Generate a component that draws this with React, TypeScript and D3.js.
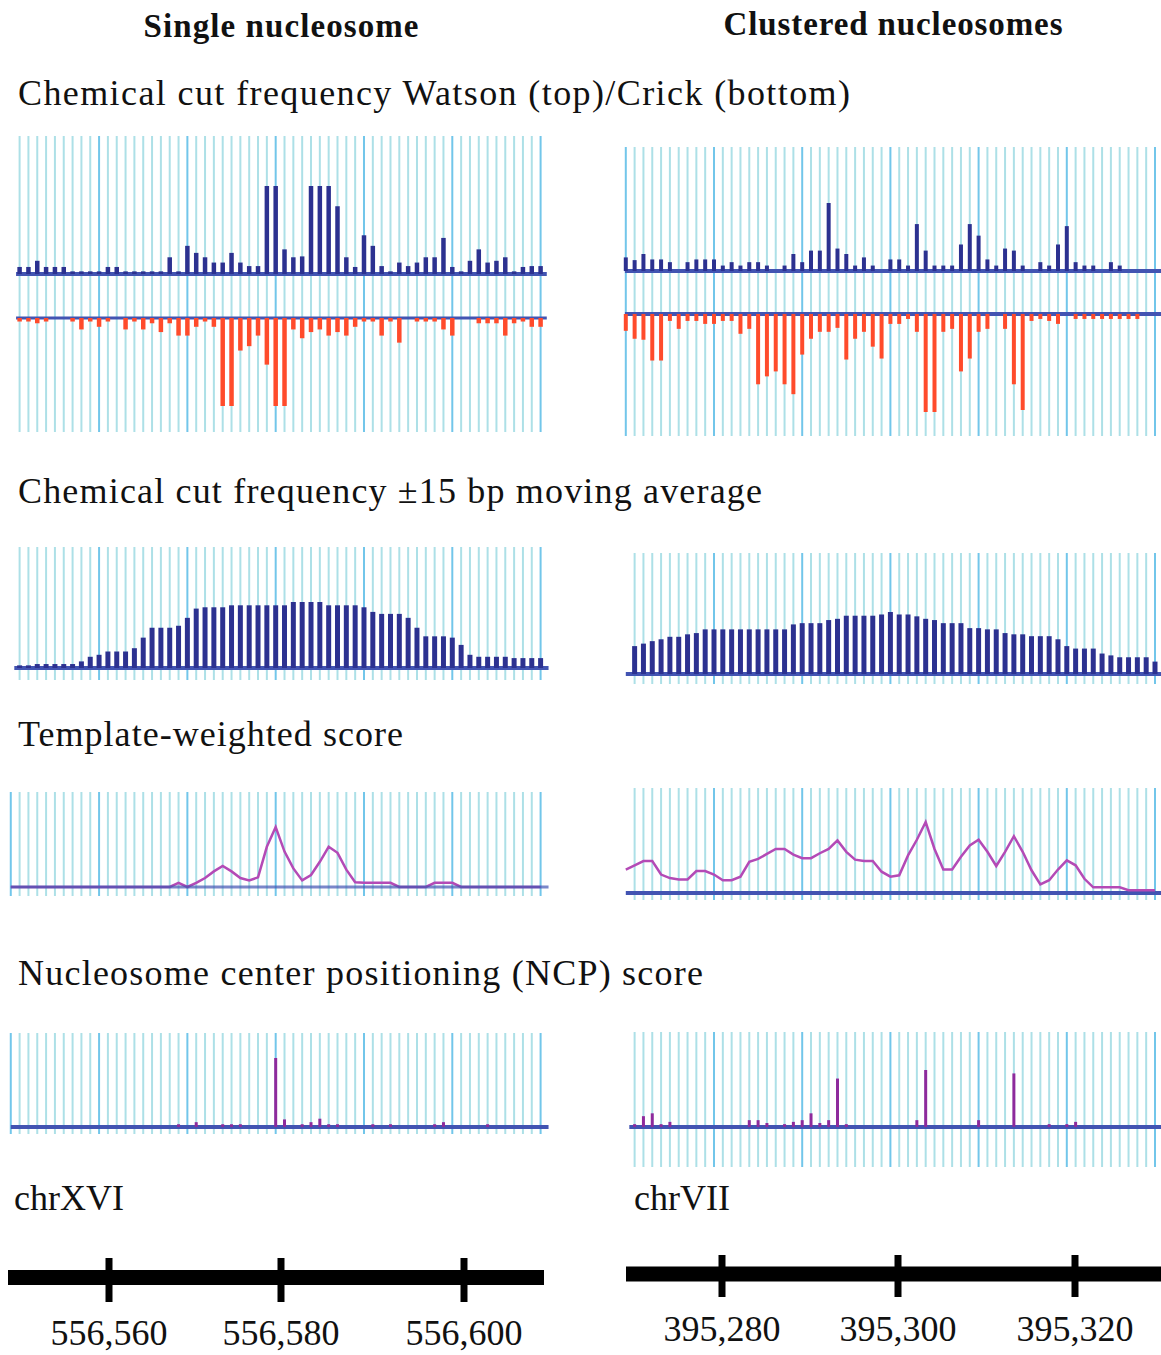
import React from "react";
import * as d3 from "d3";

const W = 1161;
const H = 1355;

// cut frequency, top strand (Watson) and bottom strand (Crick), one value per bp
const watsonSingle = [8,8,15,8,8,8,3,3,3,3,8,8,3,3,3,3,3,19,3,32,24,19,13,13,24,13,9,9,100,100,28,19,20,100,100,100,77,19,8,44,32,9,3,13,9,13,19,19,41,8,3,15,28,13,15,19,3,8,9,9];
const crickSingle = [4,4,6,4,0,0,4,13,4,10,4,0,13,4,13,6,16,6,20,20,10,4,10,100,100,37,32,20,53,100,100,13,23,16,13,20,16,20,10,4,4,20,4,28,0,4,4,4,13,20,0,0,6,6,6,20,6,4,10,10];
const watsonCluster = [20,16,25,17,17,13,0,13,17,17,17,8,13,8,13,13,8,0,8,25,13,30,30,100,33,25,8,20,8,0,17,17,8,69,30,8,8,8,39,69,52,17,8,33,30,8,0,13,8,39,66,13,8,8,0,13,8,0,0,0,0];
const crickCluster = [17,25,26,47,47,7,15,7,7,10,10,7,7,20,15,71,63,58,71,81,41,25,18,18,14,46,25,18,33,45,10,10,5,18,99,99,18,15,58,45,18,15,0,15,71,97,7,5,7,10,0,5,5,5,5,5,5,5,5,0,0];

// +-15 bp moving average
const avgSingle = [4,4,6,6,6,6,6,10,17,20,25,25,25,30,46,61,61,61,64,76,90,92,92,92,95,95,95,95,95,95,95,100,100,100,100,95,95,95,95,92,85,82,82,82,76,61,48,48,48,46,35,20,17,17,17,17,15,15,15,15];
const avgCluster = [45,49,53,56,60,60,64,66,72,72,72,72,72,72,72,72,72,72,80,82,82,82,87,89,94,94,94,94,96,100,96,96,93,89,87,82,82,82,74,74,72,72,66,64,64,61,61,61,56,45,41,41,41,33,30,27,27,27,27,20];

// template-weighted score
const templateSingle = [0,0,0,0,0,0,0,0,0,0,0,0,0,0,0,0,0,0,0,7,0,7,15,26,35,26,15,11,16,67,100,59,31,11,20,42,67,57,29,8,7,7,7,7,0,0,0,0,7,7,7,0,0,0,0,0,0,0,0,0,0];
const templateCluster = [33,39,45,45,26,21,19,19,31,31,26,18,18,23,44,48,55,62,62,54,49,49,56,62,74,58,47,45,45,30,23,25,53,75,100,62,33,33,51,67,75,58,38,58,80,58,32,12,18,33,46,39,20,8,8,8,8,4,4,4,4];

// NCP score
const ncpSingle = [0,0,0,0,0,0,0,0,0,0,0,0,0,0,0,0,0,0,4,0,7,0,0,4,4,4,0,0,0,100,11,0,4,7,12,4,4,0,0,0,4,0,4,0,0,0,0,4,7,0,0,0,0,4,0,0,0,0,0,0];
const ncpCluster = [0,5,19,24,5,9,0,0,0,0,0,0,0,0,12,12,7,0,5,9,12,24,7,12,85,5,0,0,0,0,0,0,0,12,100,0,0,0,0,0,12,0,0,0,94,0,0,0,5,0,5,9,0,0,0,0,0,0,0,0,0];

const ticksSingle = [556560, 556580, 556600];
const ticksCluster = [395280, 395300, 395320];

const SERIF = "'Liberation Serif', 'Times New Roman', serif";
const GRID = "#ade0e7";
const GRID_DARK = "#72c6ea";
const NAVY = "#2c3190";
const BASE = "#4254b2";
const RED = "#ff4b2b";
const MAGENTA = "#b44ab6";
const PURPLE = "#8e2a9c";

const xSingle = d3.scaleLinear().domain([0, 59]).range([19.6, 540.6]);
const xCluster = d3.scaleLinear().domain([0, 60]).range([625.8, 1155]);
const rulerSingle = d3.scaleLinear().domain(ticksSingle).range([109, 281, 464]);
const rulerCluster = d3.scaleLinear().domain(ticksCluster).range([722, 898, 1075]);

type Scale = d3.ScaleLinear<number, number>;

function Grid({ x, from, to, top, bottom, dark }: { x: Scale; from: number; to: number; top: number; bottom: number; dark: number }) {
  return (
    <g>
      {d3.range(from, to + 1).map((i) => (
        <line key={i} x1={x(i)} x2={x(i)} y1={top} y2={bottom}
          stroke={((i % 10) + 10) % 10 === dark ? GRID_DARK : GRID} strokeWidth={2} />
      ))}
    </g>
  );
}

function Bars({ x, y, data, start, color, width }: { x: Scale; y: Scale; data: number[]; start: number; color: string; width: number }) {
  return (
    <g>
      {data.map((v, k) =>
        v > 0 ? (
          <line key={k} x1={x(start + k)} x2={x(start + k)} y1={y(0)} y2={y(v)} stroke={color} strokeWidth={width} />
        ) : null
      )}
    </g>
  );
}

function Base({ x, y, a, b, w = 3, opacity = 1 }: { x: Scale; y: number; a: number; b: number; w?: number; opacity?: number }) {
  return <line x1={x(a)} x2={x(b)} y1={y} y2={y} stroke={BASE} strokeWidth={w} strokeOpacity={opacity} />;
}

function Label({ x, y, text, len, size = 36, bold = false, anchor = "start" }: any) {
  return (
    <text x={x} y={y} fontFamily={SERIF} fontSize={size} fontWeight={bold ? "bold" : "normal"}
      textAnchor={anchor} textLength={len} lengthAdjust="spacing" fill="#111">
      {text}
    </text>
  );
}

export default function App() {
  // panel 1: Watson / Crick
  const ywS = d3.scaleLinear().domain([0, 100]).range([274, 186]);
  const ycS = d3.scaleLinear().domain([0, 100]).range([318, 406]);
  const ywC = d3.scaleLinear().domain([0, 100]).range([271, 203]);
  const ycC = d3.scaleLinear().domain([0, 100]).range([314, 413]);
  // panel 2: moving average
  const yaS = d3.scaleLinear().domain([0, 100]).range([668, 602]);
  const yaC = d3.scaleLinear().domain([0, 100]).range([674, 612]);
  // panel 3: template score
  const ytS = d3.scaleLinear().domain([0, 100]).range([887, 827]);
  const ytC = d3.scaleLinear().domain([0, 100]).range([893, 822]);
  // panel 4: NCP
  const ynS = d3.scaleLinear().domain([0, 100]).range([1127, 1058]);
  const ynC = d3.scaleLinear().domain([0, 100]).range([1127, 1070]);

  const lineS = d3.line<number>().x((_, k) => xSingle(k - 1)).y((d) => ytS(d));
  const lineC = d3.line<number>().x((_, k) => xCluster(k)).y((d) => ytC(d));

  return (
    <div>
      <style>{"body{margin:0}"}</style>
      <svg width={W} height={H} style={{ display: "block", background: "#fff" }}>
        <Label x={281} y={37} text="Single nucleosome" len={275} size={33} bold anchor="middle" />
        <Label x={893} y={35} text="Clustered nucleosomes" len={339} size={33} bold anchor="middle" />

        <Label x={18} y={105} text="Chemical cut frequency Watson (top)/Crick (bottom)" len={832} />
        <Label x={18} y={503} text="Chemical cut frequency ±15 bp moving average" len={744} />
        <Label x={18} y={746} text="Template-weighted score" len={385} />
        <Label x={18} y={985} text="Nucleosome center positioning (NCP) score" len={685} />

        {/* panel 1 */}
        <Grid x={xSingle} from={0} to={59} top={136} bottom={432} dark={9} />
        <Base x={xSingle} y={274} a={-0.4} b={59.7} w={4} />
        <Base x={xSingle} y={318} a={-0.4} b={59.7} />
        <Bars x={xSingle} y={ywS} data={watsonSingle} start={0} color={NAVY} width={4.5} />
        <Bars x={xSingle} y={ycS} data={crickSingle} start={0} color={RED} width={4.5} />

        <Grid x={xCluster} from={0} to={61} top={147} bottom={436} dark={0} />
        <Base x={xCluster} y={271} a={-0.1} b={61} w={4} />
        <Base x={xCluster} y={314} a={-0.1} b={61} w={4} />
        <Bars x={xCluster} y={ywC} data={watsonCluster} start={0} color={NAVY} width={4} />
        <Bars x={xCluster} y={ycC} data={crickCluster} start={0} color={RED} width={4} />

        {/* panel 2 */}
        <Grid x={xSingle} from={0} to={59} top={547} bottom={680} dark={9} />
        <Base x={xSingle} y={668} a={-0.6} b={59.9} w={4} />
        <Bars x={xSingle} y={yaS} data={avgSingle} start={0} color={NAVY} width={5} />

        <Grid x={xCluster} from={1} to={61} top={553} bottom={684} dark={0} />
        <Base x={xCluster} y={674} a={0} b={61} w={4} />
        <Bars x={xCluster} y={yaC} data={avgCluster} start={1} color={NAVY} width={5} />

        {/* panel 3 */}
        <Grid x={xSingle} from={-1} to={59} top={792} bottom={896} dark={9} />
        <path d={lineS(templateSingle) || ""} fill="none" stroke={MAGENTA} strokeWidth={2.5} />
        <Base x={xSingle} y={887} a={-1} b={59.9} opacity={0.7} />

        <Grid x={xCluster} from={1} to={61} top={788} bottom={900} dark={0} />
        <Base x={xCluster} y={893} a={0} b={61} w={4} />
        <path d={lineC(templateCluster) || ""} fill="none" stroke={MAGENTA} strokeWidth={2.5} />

        {/* panel 4 */}
        <Grid x={xSingle} from={-1} to={59} top={1033} bottom={1134} dark={9} />
        <Base x={xSingle} y={1127} a={-1} b={59.9} w={4} />
        <Bars x={xSingle} y={ynS} data={ncpSingle} start={0} color={PURPLE} width={3} />

        <Grid x={xCluster} from={1} to={61} top={1032} bottom={1167} dark={0} />
        <Base x={xCluster} y={1127} a={0.4} b={61} w={4} />
        <Bars x={xCluster} y={ynC} data={ncpCluster} start={0} color={PURPLE} width={3} />

        {/* chromosome rulers */}
        <Label x={14} y={1210} text="chrXVI" />
        <Label x={634} y={1210} text="chrVII" />

        <line x1={8} x2={544} y1={1277.5} y2={1277.5} stroke="#000" strokeWidth={15} />
        {ticksSingle.map((t) => (
          <g key={t}>
            <line x1={rulerSingle(t)} x2={rulerSingle(t)} y1={1258} y2={1302} stroke="#000" strokeWidth={7} />
            <text x={rulerSingle(t)} y={1345} fontFamily={SERIF} fontSize={36} textAnchor="middle" fill="#111">
              {d3.format(",")(t)}
            </text>
          </g>
        ))}
        <line x1={626} x2={1161} y1={1274} y2={1274} stroke="#000" strokeWidth={15} />
        {ticksCluster.map((t) => (
          <g key={t}>
            <line x1={rulerCluster(t)} x2={rulerCluster(t)} y1={1255} y2={1297} stroke="#000" strokeWidth={7} />
            <text x={rulerCluster(t)} y={1341} fontFamily={SERIF} fontSize={36} textAnchor="middle" fill="#111">
              {d3.format(",")(t)}
            </text>
          </g>
        ))}
      </svg>
    </div>
  );
}
